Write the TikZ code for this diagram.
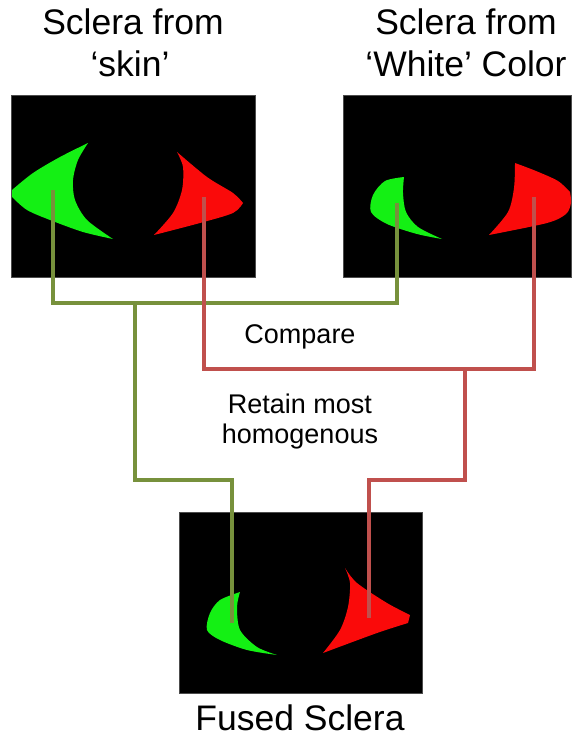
\documentclass[tikz,border=0pt]{standalone}
\usepackage{fontspec}
\setmainfont{Liberation Sans}
\definecolor{olivelink}{RGB}{119,145,60}
\definecolor{redlink}{RGB}{192,80,77}
\definecolor{scleragreen}{RGB}{20,240,20}
\definecolor{sclerared}{RGB}{250,10,10}
\begin{document}
\begin{tikzpicture}[x=1pt,y=-1pt,
  panel/.style={fill=black,draw=black!70,line width=0.6pt,inner sep=0pt,outer sep=0pt},
  title/.style={font=\fontsize{35.5}{42}\selectfont,inner sep=0pt,anchor=base},
  note/.style={font=\fontsize{27}{30}\selectfont,inner sep=0pt,anchor=base},
  olivewire/.style={draw=olivelink,line width=3.5pt},
  redwire/.style={draw=redlink,line width=3.5pt},
  greenpatch/.style={fill=scleragreen},
  redpatch/.style={fill=sclerared}]
\useasboundingbox (0,0) rectangle (575,738);
\fill[white] (0,0) rectangle (575,738);

% titles
\node[title] (skinA) at (133,35) {Sclera from};
\node[title] (skinB) at (130,77) {`skin'};
\node[title] (whiteA) at (466,35) {Sclera from};
\node[title] (whiteB) at (466,77) {`White' Color};
\node[title] (fusedT) at (300,730) {Fused Sclera};

% panels
\node[panel,minimum width=244pt,minimum height=182pt] (skin) at (133,186) {};
\node[panel,minimum width=228pt,minimum height=182pt] (white) at (457,186) {};
\node[panel,minimum width=243pt,minimum height=181pt] (fused) at (300.5,602.5) {};

% sclera masks, skin-based
\fill[greenpatch] plot[smooth] coordinates {(88,143) (60,157) (33,173) (12,190)}
  -- (12,197) -- plot[smooth] coordinates {(12,197) (27,210) (50,220) (83,232) (113,239)}
  -- plot[smooth] coordinates {(113,239) (87,220) (75,200) (73,180) (78,160) (88,143)} -- cycle;
\fill[redpatch] plot[smooth] coordinates {(177,152) (207,177) (233,193) (243,203)}
  -- plot[smooth] coordinates {(243,203) (233,213) (200,223) (154,235)}
  -- plot[smooth] coordinates {(154,235) (173,213) (182,190) (183,167) (177,152)} -- cycle;

% sclera masks, white-colour based
\fill[greenpatch] plot[smooth] coordinates {(404,177) (385,181) (373,195) (371,212) (387,224) (417,234) (442,239)}
  -- plot[smooth] coordinates {(442,239) (418,227) (406,212) (403,193) (404,177)} -- cycle;
\fill[redpatch] plot[smooth] coordinates {(515,163) (536,171) (558,181) (570,192)}
  -- plot[smooth] coordinates {(570,192) (571,203) (566,214) (547,223) (489,235)}
  -- plot[smooth] coordinates {(489,235) (508,212) (514,188) (515,163)} -- cycle;

% fused masks
\fill[greenpatch] plot[smooth] coordinates {(240,592) (220,600) (210,613) (207,630) (220,640) (247,650) (277,655)}
  -- plot[smooth] coordinates {(277,655) (257,647) (240,630) (237,607) (240,592)} -- cycle;
\fill[redpatch] plot[smooth] coordinates {(345,568) (357,583) (387,603) (410,615)}
  -- (408,623) -- plot[smooth] coordinates {(408,623) (377,633) (323,653)}
  -- plot[smooth] coordinates {(323,653) (340,630) (348,607) (350,583) (345,568)} -- cycle;

% connector end points
\coordinate (skinG) at (53,190);
\coordinate (whiteG) at (397,203);
\coordinate (fusedG) at (232,623);
\coordinate (gbus) at (135,303);
\coordinate (gelbow) at (135,480);
\coordinate (skinR) at (204,197);
\coordinate (whiteR) at (534,197);
\coordinate (fusedR) at (369,618);
\coordinate (rbus) at (465,369);
\coordinate (relbow) at (465,480);

% green comparison and retention path
\draw[olivewire] (skinG) |- (gbus) -| (whiteG);
\draw[olivewire] (gbus) -- (gelbow) -| (fusedG);
% red comparison and retention path
\draw[redwire] (skinR) |- (rbus) -| (whiteR);
\draw[redwire] (rbus) -- (relbow) -| (fusedR);

% step labels
\node[note] (cmp) at (300,343) {Compare};
\node[note] (keepA) at (300,413) {Retain most};
\node[note] (keepB) at (300,443) {homogenous};
\end{tikzpicture}
\end{document}
